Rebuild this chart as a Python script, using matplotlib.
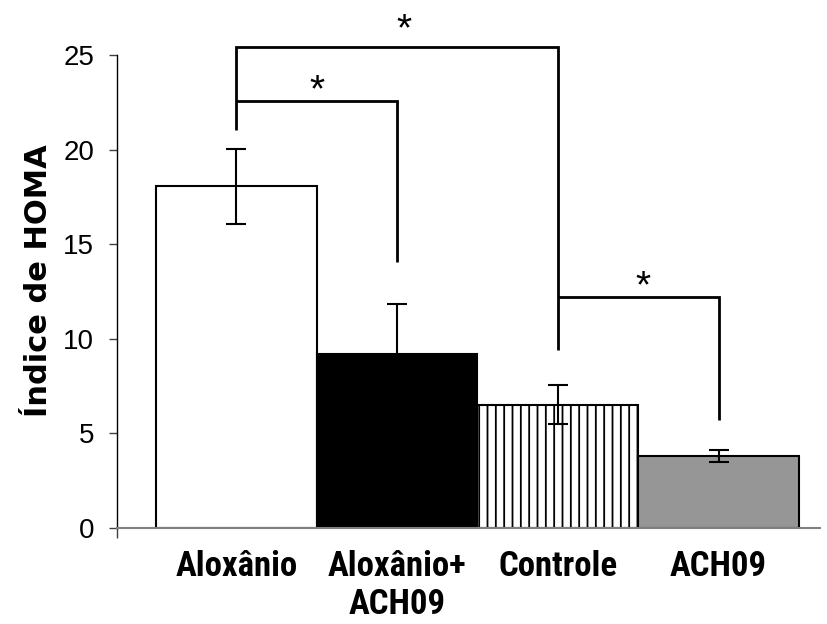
import matplotlib
matplotlib.use("Agg")
import matplotlib.pyplot as plt
from matplotlib import font_manager as fm

# Groups and HOMA index values (mean ± error)
groups = ["Aloxânio", "Aloxânio+\nACH09", "Controle", "ACH09"]
homa_mean = [18.05, 9.2, 6.5, 3.78]
homa_err = [2.0, 2.65, 1.02, 0.33]
bar_colors = ["white", "black", "white", "#969696"]
bar_hatches = [None, None, "||", None]

# Significance brackets: (left group, right group, bracket height, left leg bottom, right leg bottom)
sig_pairs = [(0, 2), (0, 1), (2, 3)]
sig_heights = [25.42, 22.57, 12.2]
sig_left_bottoms = [21.03, 22.57, 12.2]
sig_right_bottoms = [9.39, 14.05, 5.69]
sig_star_shift = [(5.0, 5.0), (0.0, 0.0), (3.6, 0.0)]  # star offsets in points
yticks = [0, 5, 10, 15, 20, 25]

names = {f.name for f in fm.fontManager.ttflist}
narrow = None
for cand in ("Liberation Sans Narrow", "Arial Narrow", "Roboto Condensed"):
    if cand in names:
        narrow = cand
        break
if narrow:
    xlabel_font = dict(family=[narrow, "DejaVu Sans"], fontsize=25)
else:
    xlabel_font = dict(family=["Liberation Sans", "DejaVu Sans"], fontsize=21)

plt.rcParams["font.family"] = ["Liberation Sans", "DejaVu Sans"]
plt.rcParams["hatch.linewidth"] = 1.3

fig = plt.figure(figsize=(8.28, 6.24), dpi=100)
ax = fig.add_axes([0.1413, 0.1546, 0.849, 0.7572])

x = list(range(len(groups)))
bars = ax.bar(x, homa_mean, width=1.0, color=bar_colors, edgecolor="black",
              linewidth=1.5, zorder=2)
for b, h in zip(bars, bar_hatches):
    if h:
        b.set_hatch(h)

ax.errorbar(x, homa_mean, yerr=homa_err, fmt="none", ecolor="black",
            elinewidth=1.5, capsize=7.5, capthick=1.5, zorder=3)

ax.set_xlim(-0.742, 3.63)
ax.set_ylim(0, 25)

# Axes styling
for side in ("top", "right"):
    ax.spines[side].set_visible(False)
ax.spines["left"].set_color("black")
ax.spines["left"].set_linewidth(1.0)
ax.spines["bottom"].set_color("#808080")
ax.spines["bottom"].set_linewidth(1.5)

ax.set_yticks(yticks)
ax.set_yticklabels([str(v) for v in yticks], fontsize=20)
ax.tick_params(axis="y", direction="out", length=6, width=1.0, color="#404040", pad=10.5)

ax.set_xticks(x)
ax.set_xticklabels(groups, fontweight="bold", linespacing=1.2, **xlabel_font)
ax.tick_params(axis="x", which="major", length=0, pad=16)
ax.set_xticks([-0.742], minor=True)
ax.tick_params(axis="x", which="minor", direction="out", length=7, width=1.0, color="#404040")

ax.set_ylabel("Índice de HOMA", fontsize=22, fontweight="bold",
              family=["DejaVu Sans"])
ax.yaxis.label.set_rotation_mode("default")
ax.yaxis.label.set_verticalalignment("center")
ax.yaxis.label.set_horizontalalignment("center")
ax.yaxis.set_label_coords(-0.1123, 0.5228)

# Significance brackets with stars
for (a, b), h, lb, rb, (dx, dy) in zip(sig_pairs, sig_heights, sig_left_bottoms,
                                       sig_right_bottoms, sig_star_shift):
    ax.plot([a, a, b, b], [lb, h, h, rb], color="black", lw=2.0,
            solid_capstyle="butt", solid_joinstyle="miter", clip_on=False, zorder=4)
    ax.annotate("*", xy=((a + b) / 2, h), xytext=(dx, dy), textcoords="offset points",
                ha="center", va="baseline", fontsize=28, annotation_clip=False)

fig.savefig("out.png", dpi=100)
